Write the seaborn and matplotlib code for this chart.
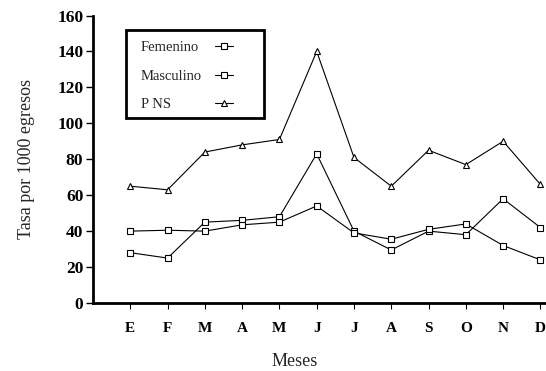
import matplotlib
matplotlib.use('Agg')
import matplotlib.pyplot as plt
import seaborn as sns
import pandas as pd
from matplotlib.patches import Rectangle

# ---- data ----
meses = ['E', 'F', 'M', 'A', 'M', 'J', 'J', 'A', 'S', 'O', 'N', 'D']
femenino = [28, 25, 45, 46, 48, 83, 40, 29.5, 40, 38, 58, 42]
masculino = [40, 40.5, 40, 43.5, 45, 54, 39, 35.5, 41, 44, 32, 24]
pns = [65, 63, 84, 88, 91, 140, 81, 65, 85, 77, 90, 66]
series = ['Femenino', 'Masculino', 'P NS']
y_ticks = [0, 20, 40, 60, 80, 100, 120, 140, 160]

sns.set_style('ticks')
plt.rcParams['font.family'] = ['Liberation Serif', 'DejaVu Serif']

pos = list(range(1, len(meses) + 1))
df = pd.DataFrame({
    'pos': pos * 3,
    'valor': femenino + masculino + pns,
    'serie': [s for s in series for _ in meses],
})

W, H = 546, 371
fig = plt.figure(figsize=(W / 100, H / 100), dpi=100)
ax = fig.add_axes([93 / W, 1 - 303 / H, 453 / W, 287.5 / H])

sns.lineplot(data=df, x='pos', y='valor', hue='serie', style='serie',
             palette={s: 'black' for s in series},
             markers={'Femenino': 's', 'Masculino': 's', 'P NS': '^'},
             dashes=False, linewidth=0.8, markersize=4.5,
             markerfacecolor='white', markeredgecolor='black',
             markeredgewidth=0.8, ax=ax, legend=True)

ax.set_xlim(0, 12.15)
ax.set_ylim(0, 160)
ax.set_xticks(pos)
ax.set_xticklabels(meses, fontsize=11, fontweight='bold')
ax.set_yticks(y_ticks)
ax.set_yticklabels([str(v) for v in y_ticks], fontsize=12.5, fontweight='bold')
ax.tick_params(axis='y', length=5, width=1, pad=2, colors='black')
ax.tick_params(axis='x', length=4, width=0.8, pad=10, colors='black')
for side in ['top', 'right']:
    ax.spines[side].set_visible(False)
for side in ['left', 'bottom']:
    ax.spines[side].set_linewidth(2)
    ax.spines[side].set_color('black')

ax.set_xlabel('Meses', fontsize=13)
ax.set_ylabel('Tasa por 1000 egresos', fontsize=13)
ax.xaxis.set_label_coords(0.446, -0.175)
ax.yaxis.set_label_coords(-0.128, 0.5)

handles, labels = ax.get_legend_handles_labels()
leg = ax.legend(handles, labels, loc='upper left',
                bbox_to_anchor=((141 - 93) / 453, (303 - 41) / 287.5),
                frameon=False, markerfirst=False, handlelength=1.2,
                handletextpad=0.9, labelspacing=1.05, fontsize=10.5,
                borderpad=0, borderaxespad=0)

# keep labels left-aligned and handles aligned in one column
fig.canvas.draw()
r = fig.canvas.get_renderer()
col = leg._legend_handle_box.get_children()[0]
rows = col.get_children()
widths = [t.get_window_extent(r).width for t in leg.get_texts()]
mw = max(widths)
for row, w in zip(rows, widths):
    row.sep += (mw - w) * 72 / fig.dpi

x0 = (126 - 93) / 453
x1 = (264 - 93) / 453
y1 = (303 - 30) / 287.5
y0 = (303 - 118) / 287.5
ax.add_patch(Rectangle((x0, y0), x1 - x0, y1 - y0, transform=ax.transAxes,
                       fill=False, edgecolor='black', linewidth=2,
                       clip_on=False, zorder=5))

fig.savefig('out.png', dpi=100)
